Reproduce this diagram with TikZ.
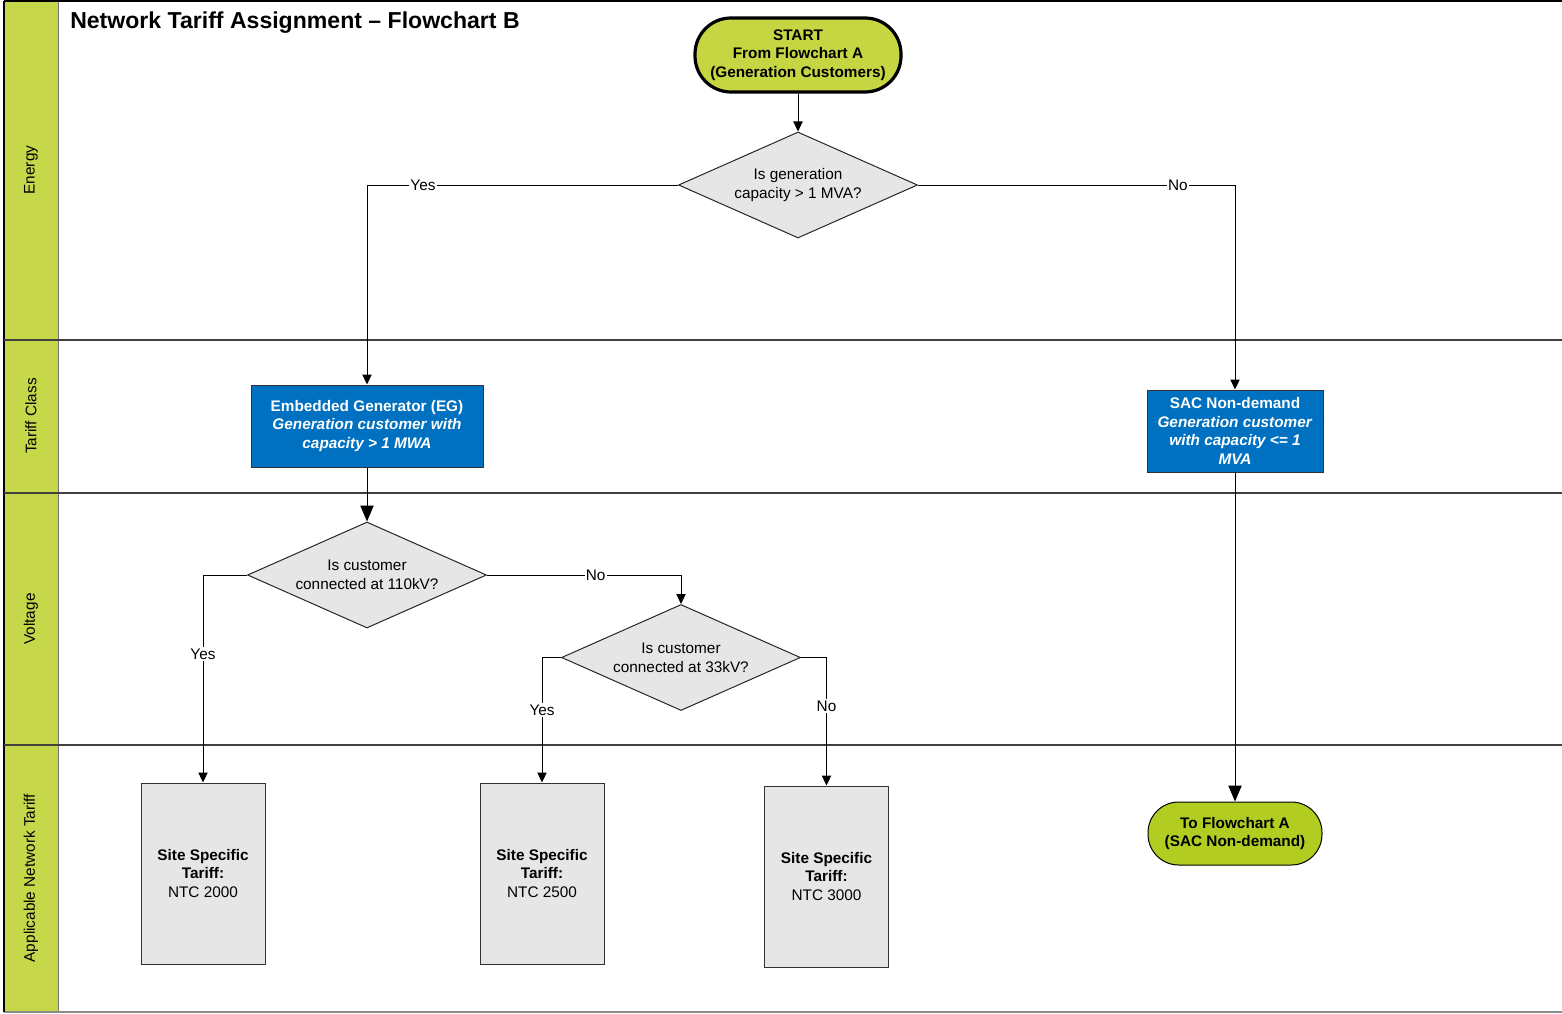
\documentclass[tikz,border=0pt]{standalone}
\usepackage{fontspec}
\setmainfont{Liberation Sans}
\usetikzlibrary{arrows.meta,shapes.geometric}
\definecolor{lanegreen}{RGB}{199,215,74}
\definecolor{startgreen}{RGB}{197,214,66}
\definecolor{endgreen}{RGB}{178,204,34}
\definecolor{procblue}{RGB}{0,112,192}
\definecolor{boxgray}{RGB}{230,230,230}
\begin{document}
\begin{tikzpicture}[x=0.75pt,y=-0.75pt,
  base/.style={font=\fontsize{11.5}{14}\selectfont, align=center, inner sep=0pt},
  term/.style={base, draw=black, font=\fontsize{11.5}{14}\selectfont\bfseries},
  proc/.style={base, draw=black!80, fill=procblue, text=white, font=\fontsize{11.5}{14}\selectfont\bfseries, line width=0.75pt},
  dec/.style={base, diamond, aspect=2.25, draw=black!85, fill=boxgray, line width=0.75pt, minimum width=239*0.75pt, minimum height=106*0.75pt},
  tariff/.style={base, draw=black!80, fill=boxgray, line width=0.75pt, minimum width=124*0.75pt, minimum height=181*0.75pt},
  conn/.style={draw=black, line width=0.75pt, -{Triangle[length=7.5pt,width=7pt]}},
  bigconn/.style={draw=black, line width=0.75pt, -{Triangle[length=12pt,width=10pt]}},
  lbl/.style={fill=white, inner sep=1pt, font=\fontsize{11.5}{14}\selectfont},
  lanelbl/.style={rotate=90, font=\fontsize{11.5}{14}\selectfont},
  laneline/.style={draw=black!75, line width=0.9pt}
]
\useasboundingbox (0,0) rectangle (1562,1013);
% swimlane frame
\fill[lanegreen] (4,1) rectangle (58,1012);
\draw[black!55, line width=0.75pt] (58,1) -- (58,1012);
\draw[black!45, line width=1pt] (4,1012) -- (1562,1012);
\draw[black, line width=1.5pt] (4,1) -- (1562,1);
\draw[black, line width=1.2pt] (4,1) -- (4,1012);
\draw[laneline] (4,340) -- (1562,340);
\draw[laneline] (4,493) -- (1562,493);
\draw[laneline] (4,745) -- (1562,745);
\node[lanelbl] (l1) at (31,170) {Energy};
\node[lanelbl] (l2) at (31,416) {Tariff Class};
\node[lanelbl] (l3) at (31,619) {Voltage};
\node[lanelbl] (l4) at (31,878) {Applicable Network Tariff};
\node[anchor=west, inner sep=0pt, font=\fontsize{17.3}{20}\selectfont\bfseries] (title) at (70,23) {Network Tariff Assignment – Flowchart B};
% nodes
\node[term, fill=startgreen, line width=2.4pt, minimum width=206*0.75pt, minimum height=74*0.75pt, rounded corners=27pt] (start) at (798,55) {START\\From Flowchart A\\(Generation Customers)};
\node[dec] (d1) at (798,185) {Is generation\\capacity > 1 MVA?};
\node[proc, minimum width=232*0.75pt, minimum height=82*0.75pt] (eg) at (367,426) {Embedded Generator (EG)\\\textit{Generation customer with}\\\textit{capacity > 1 MWA}};
\node[proc, minimum width=176*0.75pt, minimum height=82*0.75pt] (sac) at (1235,431) {SAC Non-demand\\\textit{Generation customer}\\\textit{with capacity <= 1}\\\textit{MVA}};
\node[dec] (d2) at (367,575) {Is customer\\connected at 110kV?};
\node[dec] (d3) at (681,657.5) {Is customer\\connected at 33kV?};
\node[tariff] (t1) at (203,873.5) {\textbf{Site Specific}\\\textbf{Tariff:}\\NTC 2000};
\node[tariff] (t2) at (542,873.5) {\textbf{Site Specific}\\\textbf{Tariff:}\\NTC 2500};
\node[tariff] (t3) at (826.5,876.5) {\textbf{Site Specific}\\\textbf{Tariff:}\\NTC 3000};
\node[term, fill=endgreen, line width=0.75pt, minimum width=174*0.75pt, minimum height=63*0.75pt, rounded corners=23pt] (endn) at (1235,833.5) {To Flowchart A\\(SAC Non-demand)};
% connectors
\draw[conn] (start.south) -- (d1.north);
\draw[conn] (d1.west) -| node[lbl,pos=0.41]{Yes} (eg.north);
\draw[conn] (d1.east) -| node[lbl,pos=0.41]{No} (sac.north);
\draw[bigconn] (eg.south) -- (d2.north);
\draw[conn] (d2.west) -| node[lbl,pos=0.69]{Yes} (t1.north);
\draw[conn] (d2.east) -| node[lbl,pos=0.28]{No} (d3.north);
\draw[conn] (d3.west) -| node[lbl,pos=0.71]{Yes} (t2.north);
\draw[conn] (d3.east) -| node[lbl,pos=0.69]{No} (t3.north);
\draw[bigconn] (sac.south) -- (endn.north);
\end{tikzpicture}
\end{document}
